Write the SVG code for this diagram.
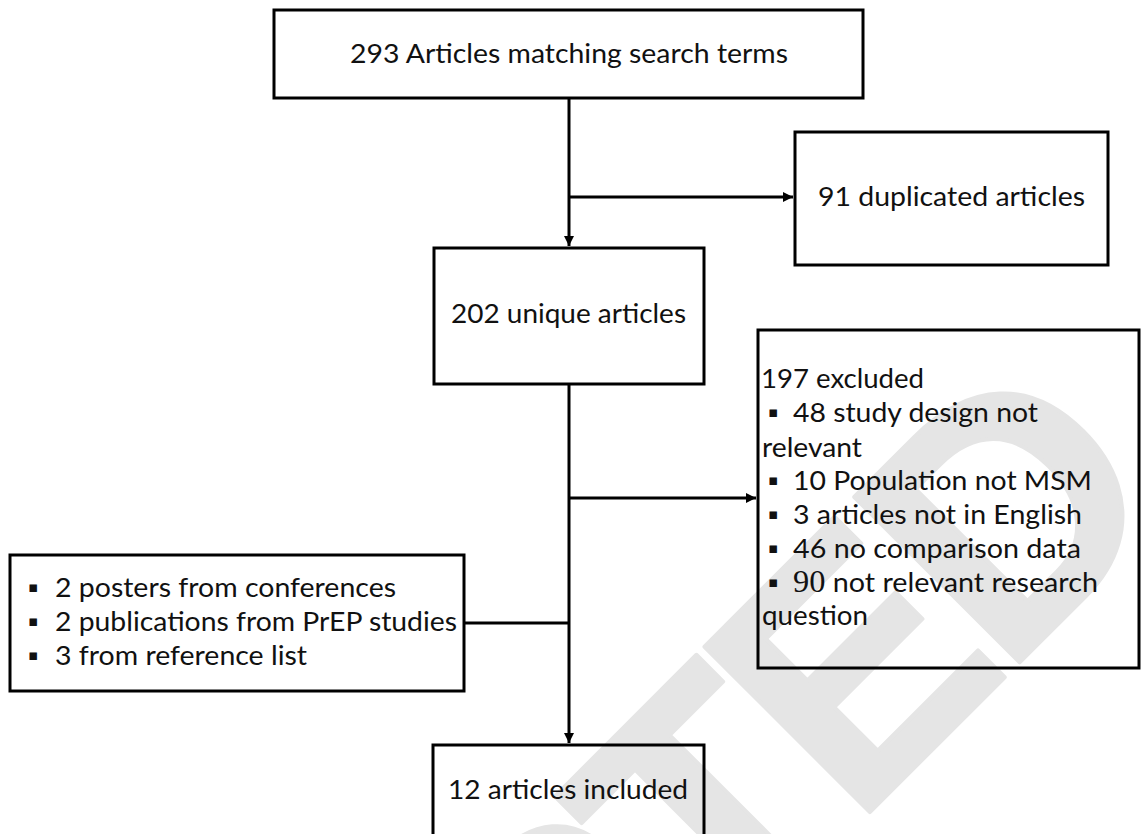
<svg xmlns="http://www.w3.org/2000/svg" width="1143" height="834" viewBox="0 0 1143 834">
  <defs>
    <style>
      .box { fill: none; stroke: #000; stroke-width: 3; }
      .wire { fill: none; stroke: #000; stroke-width: 3; }
      .lbl { font-family: Lato, "Open Sans", sans-serif; font-size: 27.5px; fill: #111; }
      .bul { font-family: "DejaVu Sans", sans-serif; font-size: 15px; fill: #111; }
      .stamp { font-family: "Liberation Sans", Arial, sans-serif; font-weight: bold; font-size: 340px; letter-spacing: -15px; fill: #e5e5e5; stroke: #e5e5e5; stroke-width: 4; stroke-linejoin: round; }
    </style>
    <marker id="arrow" viewBox="0 0 10 10" refX="10" refY="5" markerWidth="10" markerHeight="10" markerUnits="userSpaceOnUse" orient="auto">
      <path d="M0,0 L10,5 L0,10 Z" fill="#000"/>
    </marker>
  </defs>

  <rect width="1143" height="834" fill="#fff"/>

  <!-- faint diagonal stamp behind the chart -->
  <text class="stamp" transform="translate(-71,1753) rotate(-45)">ACCEPTED</text>

  <g id="connectors">
    <path class="wire" d="M569,98 V246" marker-end="url(#arrow)"/>
    <path class="wire" d="M569,197 H793" marker-end="url(#arrow)"/>
    <path class="wire" d="M569,384 V743" marker-end="url(#arrow)"/>
    <path class="wire" d="M569,498 H756" marker-end="url(#arrow)"/>
    <path class="wire" d="M464,623 H569"/>
  </g>

  <g id="search">
    <rect class="box" x="274" y="10" width="589" height="88"/>
    <text class="lbl" x="350" y="63" textLength="438" lengthAdjust="spacingAndGlyphs">293 Articles matching search terms</text>
  </g>

  <g id="duplicates">
    <rect class="box" x="795" y="132" width="313" height="133"/>
    <text class="lbl" x="818" y="206" textLength="267" lengthAdjust="spacingAndGlyphs">91 duplicated articles</text>
  </g>

  <g id="unique">
    <rect class="box" x="434" y="248" width="270" height="136"/>
    <text class="lbl" x="451" y="323" textLength="235" lengthAdjust="spacingAndGlyphs">202 unique articles</text>
  </g>

  <g id="excluded">
    <rect class="box" x="758" y="330" width="381" height="338"/>
    <text class="lbl" x="761" y="388" textLength="163" lengthAdjust="spacingAndGlyphs">197 excluded</text>
    <text class="bul" x="768" y="417">▪</text>
    <text class="lbl" x="793" y="422" textLength="245" lengthAdjust="spacingAndGlyphs">48 study design not</text>
    <text class="lbl" x="762" y="457" textLength="100" lengthAdjust="spacingAndGlyphs">relevant</text>
    <text class="bul" x="768" y="485">▪</text>
    <text class="lbl" x="793" y="490" textLength="299" lengthAdjust="spacingAndGlyphs">10 Population not MSM</text>
    <text class="bul" x="768" y="519">▪</text>
    <text class="lbl" x="793" y="524" textLength="289" lengthAdjust="spacingAndGlyphs">3 articles not in English</text>
    <text class="bul" x="768" y="553">▪</text>
    <text class="lbl" x="793" y="558" textLength="288" lengthAdjust="spacingAndGlyphs">46 no comparison data</text>
    <text class="bul" x="768" y="587">▪</text>
    <text class="lbl" x="793" y="592" textLength="305" lengthAdjust="spacingAndGlyphs"><tspan font-family="'Liberation Serif', serif" font-size="31">90</tspan> not relevant research</text>
    <text class="lbl" x="762" y="625" textLength="106" lengthAdjust="spacingAndGlyphs">question</text>
  </g>

  <g id="other-sources">
    <rect class="box" x="10" y="555" width="454" height="136"/>
    <text class="bul" x="28" y="592">▪</text>
    <text class="lbl" x="55" y="597" textLength="341" lengthAdjust="spacingAndGlyphs">2 posters from conferences</text>
    <text class="bul" x="28" y="626">▪</text>
    <text class="lbl" x="55" y="631" textLength="402" lengthAdjust="spacingAndGlyphs">2 publications from PrEP studies</text>
    <text class="bul" x="28" y="660">▪</text>
    <text class="lbl" x="55" y="665" textLength="252" lengthAdjust="spacingAndGlyphs">3 from reference list</text>
  </g>

  <g id="included">
    <rect class="box" x="433" y="745" width="271" height="100"/>
    <text class="lbl" x="448" y="799" textLength="240" lengthAdjust="spacingAndGlyphs">12 articles included</text>
  </g>
</svg>
